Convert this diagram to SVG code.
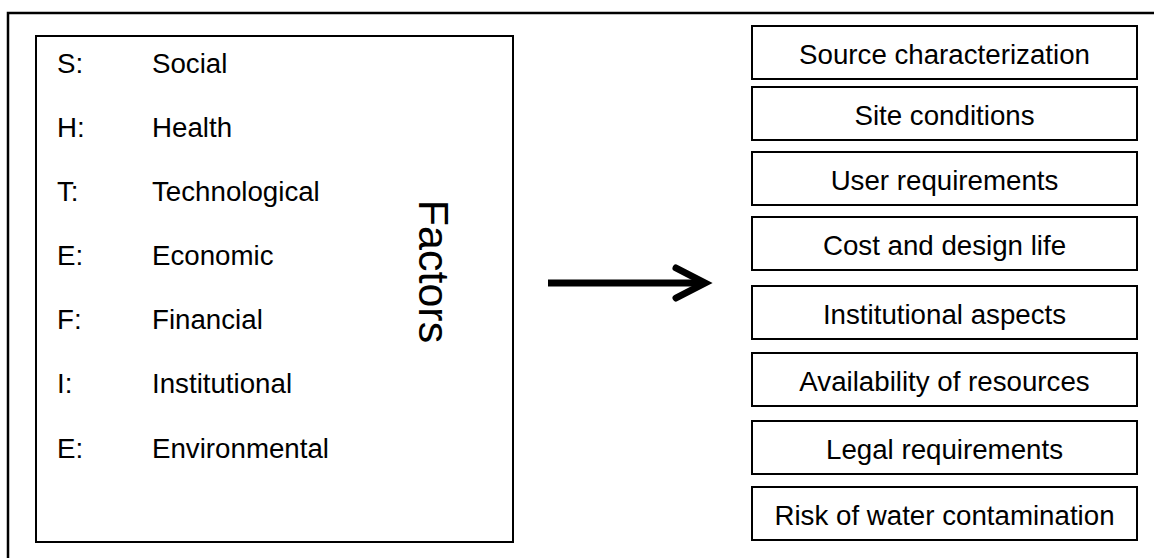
<svg xmlns="http://www.w3.org/2000/svg" width="1154" height="558" viewBox="0 0 1154 558">
<style>
.t{font-family:"Liberation Sans",Arial,sans-serif;font-size:27.7px;fill:#000}
.c{text-anchor:middle}
.b{fill:#fff;stroke:#000;stroke-width:2}
</style>
<rect x="0" y="0" width="1154" height="558" fill="#fff"/>
<g id="frame"><rect x="8" y="13" width="1160" height="560" fill="none" stroke="#000" stroke-width="2.5"/></g>
<g id="factors">
<rect class="b" x="36" y="36" width="477" height="506"/>
<text class="t" x="57" y="73">S:</text><text class="t" x="152" y="73">Social</text>
<text class="t" x="57" y="137">H:</text><text class="t" x="152" y="137">Health</text>
<text class="t" x="57" y="201">T:</text><text class="t" x="152" y="201">Technological</text>
<text class="t" x="57" y="265">E:</text><text class="t" x="152" y="265">Economic</text>
<text class="t" x="57" y="329">F:</text><text class="t" x="152" y="329">Financial</text>
<text class="t" x="57" y="393">I:</text><text class="t" x="152" y="393">Institutional</text>
<text class="t" x="57" y="458">E:</text><text class="t" x="152" y="458">Environmental</text>
<text class="t c" style="font-size:43px" transform="translate(418.5,271.5) rotate(90)">Factors</text>
</g>
<g id="connectors">
<line x1="548" y1="283" x2="702" y2="283" stroke="#000" stroke-width="7"/>
<polyline points="676,268 705,283 676,298" fill="none" stroke="#000" stroke-width="7" stroke-linecap="round" stroke-linejoin="miter"/>
</g>
<g id="n1"><rect class="b" x="752" y="26" width="385" height="53"/><text class="t c" x="944.5" y="63.5">Source characterization</text></g>
<g id="n2"><rect class="b" x="752" y="87" width="385" height="53"/><text class="t c" x="944.5" y="124.5">Site conditions</text></g>
<g id="n3"><rect class="b" x="752" y="152" width="385" height="53"/><text class="t c" x="944.5" y="189.5">User requirements</text></g>
<g id="n4"><rect class="b" x="752" y="217" width="385" height="53"/><text class="t c" x="944.5" y="254.5">Cost and design life</text></g>
<g id="n5"><rect class="b" x="752" y="286" width="385" height="53"/><text class="t c" x="944.5" y="323.5">Institutional aspects</text></g>
<g id="n6"><rect class="b" x="752" y="353" width="385" height="53"/><text class="t c" x="944.5" y="390.5">Availability of resources</text></g>
<g id="n7"><rect class="b" x="752" y="421" width="385" height="53"/><text class="t c" x="944.5" y="458.5">Legal requirements</text></g>
<g id="n8"><rect class="b" x="752" y="487" width="385" height="53"/><text class="t c" x="944.5" y="524.5">Risk of water contamination</text></g>
</svg>
